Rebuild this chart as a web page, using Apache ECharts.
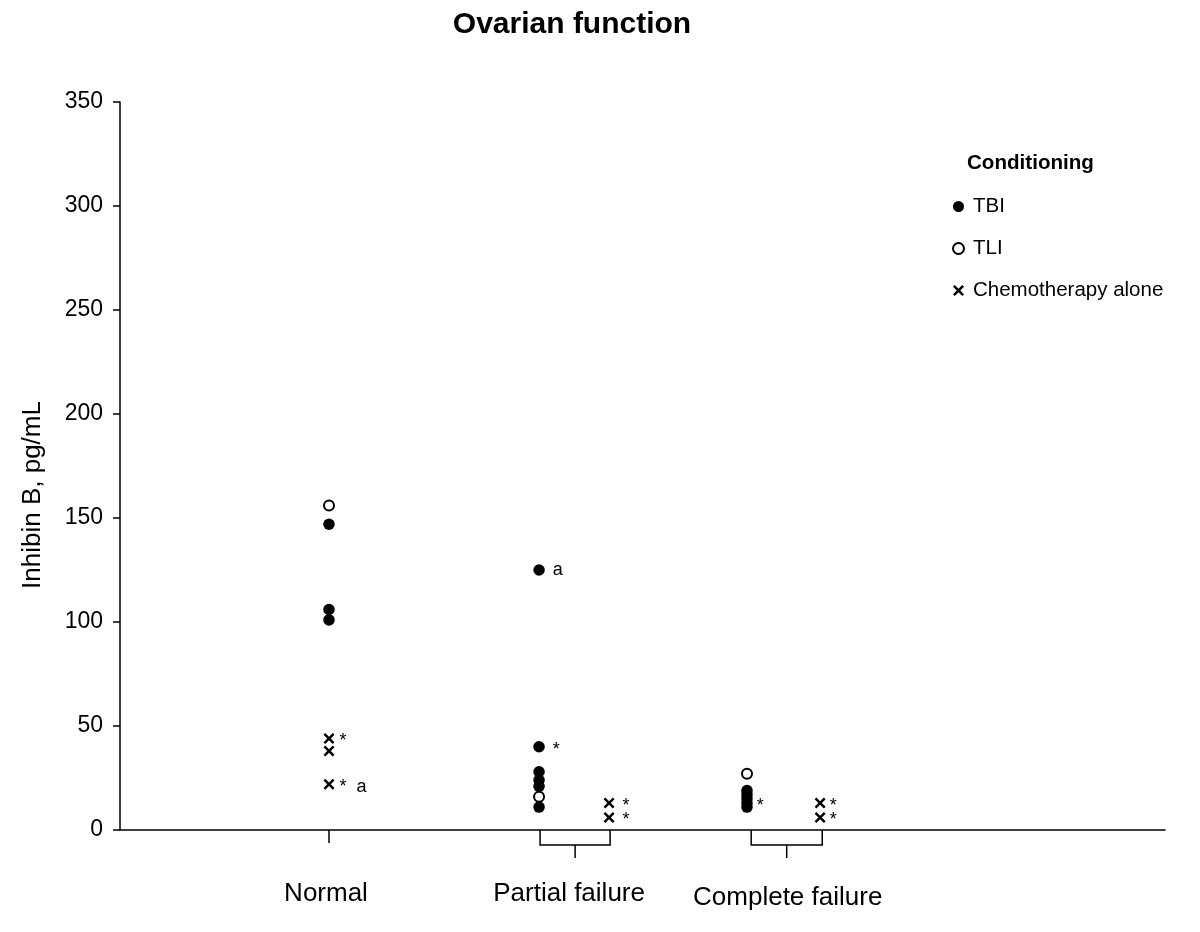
<!DOCTYPE html>
<html>
<head>
<meta charset="utf-8">
<script src="https://cdn.jsdelivr.net/npm/echarts@6/dist/echarts.min.js"></script>
<style>html,body{margin:0;padding:0;background:#fff}#c{width:1200px;height:932px}</style>
</head>
<body>
<div id="c"></div>
<script>
// ---- data ----
const groupNames = ['Normal', 'Partial failure', 'Complete failure'];
// x positions of the two columns per group: [TBI/TLI column, chemotherapy column]
const groupX = [[2.0, 2.0], [4.01, 4.68], [6.0, 6.7]];
// x extents of the group brackets below the axis
const bracketX = [[2.0, 2.0], [4.02, 4.69], [6.04, 6.72]];
const tbiValues = [[147, 106, 101], [125, 40, 28, 24, 21, 11], [19, 17, 15, 13, 11]];
const tbiNotes  = [['', '', ''], ['a', '*', '', '', '', ''], ['', '', '', '*', '']];
const tliValues = [[156], [16], [27]];
const chemoValues = [[44, 38, 22], [13, 6], [13, 6]];
const chemoNotes  = [['*', '', '*  a'], ['*', '*'], ['*', '*']];
const yTicks = [0, 50, 100, 150, 200, 250, 300, 350];
const seriesNames = ['TBI', 'TLI', 'Chemotherapy alone'];

const FONT = '"Liberation Sans", Arial, sans-serif';
const crossPath = 'path://M0,1.6 L1.6,0 L5,3.4 L8.4,0 L10,1.6 L6.6,5 L10,8.4 L8.4,10 L5,6.6 L1.6,10 L0,8.4 L3.4,5 Z';
const noteGap = [5, 8, 4];
const labelShift = [[-3, 0], [-6, 0], [1, 4]];

function buildPoints(values, notes, col) {
  const out = [];
  values.forEach((arr, g) => {
    arr.forEach((v, i) => {
      const note = notes ? notes[g][i] : '';
      const item = { value: [groupX[g][col], v] };
      if (note) {
        item.label = {
          show: true, formatter: note, position: 'right', distance: noteGap[g],
          fontSize: 18, color: '#000', fontFamily: FONT,
          offset: [0, note.indexOf('a') >= 0 && note.indexOf('*') < 0 ? 0 : 3]
        };
      }
      out.push(item);
    });
  });
  return out;
}

const chart = echarts.init(document.getElementById('c'), null, { renderer: 'canvas' });
const option = {
  backgroundColor: '#fff',
  animation: false,
  grid: { left: 120, right: 35, top: 102, bottom: 102 },
  xAxis: {
    type: 'value', min: 0, max: 10,
    axisLine: { show: true, onZero: false, lineStyle: { color: '#000', width: 1.5 } },
    axisTick: { show: false }, axisLabel: { show: false }, splitLine: { show: false }
  },
  yAxis: {
    type: 'value', min: yTicks[0], max: yTicks[yTicks.length - 1], interval: 50,
    axisLine: { show: true, lineStyle: { color: '#000', width: 1.5 } },
    axisTick: { show: true, length: 7, lineStyle: { color: '#000', width: 1.5 } },
    axisLabel: { fontSize: 23, color: '#000', fontFamily: FONT, margin: 17 },
    splitLine: { show: false }
  },
  legend: {
    orient: 'vertical', left: 947, top: 191, itemWidth: 11, itemHeight: 11, itemGap: 21,
    data: seriesNames,
    textStyle: { fontSize: 20.5, color: '#000', fontFamily: FONT, padding: [0, 0, 0, 4] }
  },
  graphic: [
    { type: 'text', style: { x: 572, y: 25, text: 'Ovarian function', textAlign: 'center', textVerticalAlign: 'middle', font: 'bold 30px ' + FONT, fill: '#000' } },
    { type: 'text', style: { x: 967, y: 163, text: 'Conditioning', textAlign: 'left', textVerticalAlign: 'middle', font: 'bold 20.6px ' + FONT, fill: '#000' } },
    { type: 'text', x: 33, y: 495, rotation: Math.PI / 2, style: { x: 0, y: 0, text: 'Inhibin B, pg/mL', textAlign: 'center', textVerticalAlign: 'middle', font: '26px ' + FONT, fill: '#000' } }
  ],
  series: [
    {
      name: 'TBI', type: 'scatter', symbol: 'circle', symbolSize: 11.5,
      itemStyle: { color: '#000', opacity: 1 }, data: buildPoints(tbiValues, tbiNotes, 0), z: 3
    },
    {
      name: 'TLI', type: 'scatter', symbol: 'circle', symbolSize: 10,
      itemStyle: { color: '#fff', borderColor: '#000', borderWidth: 2, opacity: 1 }, data: buildPoints(tliValues, null, 0), z: 4
    },
    {
      name: 'Chemotherapy alone', type: 'scatter', symbol: crossPath, symbolSize: 11,
      itemStyle: { color: '#000', opacity: 1 }, data: buildPoints(chemoValues, chemoNotes, 1), z: 3
    },
    {
      type: 'custom', silent: true, legendHoverLink: false,
      data: groupNames.map((n, g) => [bracketX[g][0], bracketX[g][1], g]),
      renderItem: function (params, api) {
        const g = api.value(2);
        const p1 = api.coord([api.value(0), 0]);
        const p2 = api.coord([api.value(1), 0]);
        const y0 = p1[1];
        const children = [];
        const ls = { stroke: '#000', lineWidth: 1.5 };
        let cx;
        if (Math.abs(p2[0] - p1[0]) < 1) {
          cx = p1[0];
          children.push({ type: 'line', shape: { x1: cx, y1: y0, x2: cx, y2: y0 + 13 }, style: ls });
        } else {
          cx = (p1[0] + p2[0]) / 2;
          children.push({ type: 'polyline', shape: { points: [[p1[0], y0], [p1[0], y0 + 15], [p2[0], y0 + 15], [p2[0], y0]] }, style: Object.assign({ fill: 'none' }, ls) });
          children.push({ type: 'line', shape: { x1: cx, y1: y0 + 15, x2: cx, y2: y0 + 28 }, style: ls });
        }
        children.push({ type: 'text', style: { x: cx + labelShift[g][0], y: y0 + 64 + labelShift[g][1], text: groupNames[g], textAlign: 'center', textVerticalAlign: 'middle', font: '26px ' + FONT, fill: '#000' } });
        return { type: 'group', children: children };
      },
      z: 2
    }
  ]
};
chart.setOption(option);
</script>
</body>
</html>
